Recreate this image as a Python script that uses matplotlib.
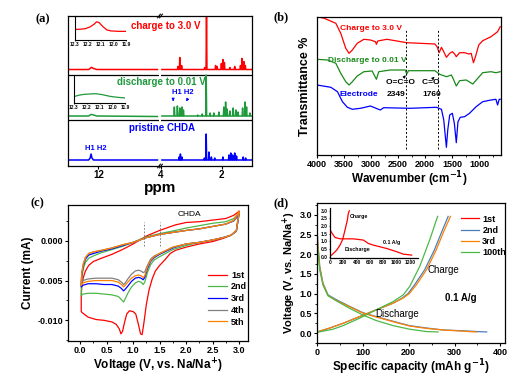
import numpy as np
import matplotlib
matplotlib.use("Agg")
import matplotlib.pyplot as plt
from matplotlib.ticker import MultipleLocator, FormatStrFormatter
from matplotlib.lines import Line2D

plt.rcParams['font.family'] = ['Liberation Sans', 'DejaVu Sans']
plt.rcParams['font.weight'] = 'bold'
plt.rcParams['axes.labelweight'] = 'bold'
plt.rcParams['axes.unicode_minus'] = False
plt.rcParams['mathtext.default'] = 'bf'
plt.rcParams['xtick.labelsize'] = 6.5
plt.rcParams['ytick.labelsize'] = 6.5
plt.rcParams['xtick.major.size'] = 2.2
plt.rcParams['ytick.major.size'] = 2.2
plt.rcParams['xtick.minor.size'] = 1.3
plt.rcParams['ytick.minor.size'] = 1.3
plt.rcParams['xtick.major.pad'] = 1.5
plt.rcParams['ytick.major.pad'] = 1.5
plt.rcParams['axes.linewidth'] = 0.9

# ---------------- (a) 1H NMR, peaks as (ppm, height) ----------------
nmr_red_peaks = [3.44, 3.38, 3.32, 2.56, 2.50, 2.20, 2.15, 2.01, 1.96, 1.91, 1.73, 1.57, 1.38, 1.33, 1.27, 1.22]
nmr_red_h = [3, 12, 4, 2, 53.5, 4, 3, 6, 10, 7, 2, 3, 4, 11, 8, 4]
nmr_green_peaks = [3.56, 3.46, 3.38, 3.31, 3.26, 2.79, 2.64, 2.51, 2.38, 2.26, 2.09, 1.93, 1.87, 1.82,
                   1.73, 1.62, 1.53, 1.46, 1.31, 1.23, 1.18, 1.07]
nmr_green_h = [9, 10, 8, 9, 6, 1, 2, 41, 3, 3, 4, 9, 14, 7, 5, 8, 6, 4, 8, 14, 9, 3]
nmr_blue_peaks = [3.40, 3.36, 3.31, 2.57, 2.51, 2.42, 2.34, 2.23, 1.96, 1.76, 1.70, 1.64, 1.57, 1.51, 1.29, 1.21]
nmr_blue_h = [3, 6, 3, 2, 26, 8, 3, 2, 3, 5, 7, 5, 7, 4, 3, 2]
base_red, base_green, base_blue = 96.5, 50, 6

# left (COOH) region
cooh_ppm = [13.0, 12.32, 12.27, 12.24, 12.21, 12.16, 12.05, 10.05]
cooh_red = [96.5, 96.5, 97.5, 98.5, 98.5, 97.5, 96.5, 96.5]
cooh_green = [50, 50, 51, 51.5, 51.5, 51, 50, 49.5]
cooh_blue = [6, 6, 8, 12, 8, 6, 6, 6]

# insets 12.3 - 11.9 ppm
ins_ppm = [12.30, 12.26, 12.22, 12.18, 12.15, 12.13, 12.11, 12.08, 12.05, 12.02, 11.99, 11.95, 11.90]
ins_red = [0.44, 0.45, 0.47, 0.55, 0.66, 0.76, 0.72, 0.55, 0.42, 0.38, 0.37, 0.36, 0.36]
ins_green = [0.23, 0.28, 0.31, 0.32, 0.33, 0.33, 0.32, 0.30, 0.27, 0.24, 0.22, 0.20, 0.18]

# ---------------- (b) FTIR ----------------
ir_red_wn = [4000, 3866, 3652, 3561, 3469, 3408, 3347, 3256, 3134, 3012, 2920, 2902, 2878, 2707, 2524,
             2341, 2097, 1822, 1780, 1743, 1700, 1658, 1609, 1548, 1499, 1456, 1426, 1365, 1273, 1194,
             1151, 1109, 1072, 1011, 938, 785, 663, 614]
ir_red_t = [138.3, 136.7, 131.7, 121.7, 106.7, 101.7, 105, 111.7, 115.7, 115, 113.3, 110.7, 114, 115.7, 114,
            112.3, 111.7, 111, 108.3, 102.3, 107.7, 103.3, 97.7, 101.7, 103.3, 101, 98.3, 102.3, 102.3, 101,
            101.7, 92.3, 98.3, 110, 114.3, 118.3, 123.3, 128.3]
ir_green_wn = [4000, 3805, 3652, 3561, 3469, 3408, 3347, 3256, 3134, 2981, 2902, 2859, 2646, 2371, 2341,
               2310, 1822, 1731, 1609, 1517, 1487, 1426, 1365, 1243, 1121, 1029, 938, 785, 694, 614]
ir_green_t = [95.7, 95, 91.7, 81.7, 73.3, 70, 73.3, 79, 83.3, 84, 75.7, 83.3, 85, 85, 81,
              84.3, 84.3, 80.7, 78.3, 80, 76.7, 69, 74.3, 75, 71, 76.7, 82.3, 83.3, 82.3, 83.3]
ir_blue_wn = [4000, 3744, 3622, 3530, 3439, 3347, 3195, 3012, 2890, 2829, 2768, 2280, 1792, 1700, 1658,
              1628, 1609, 1584, 1548, 1499, 1462, 1426, 1395, 1353, 1273, 1182, 1060, 938, 785, 694,
              663, 633, 614]
ir_blue_t = [70, 67.7, 63.3, 53.3, 47.7, 45.7, 46.7, 49, 46.3, 45, 47.3, 46.7, 47.7, 45.7, 35,
             18.3, 7.7, 25, 40, 41.7, 31.7, 12.3, 33.3, 37.7, 38.3, 41.7, 48.3, 53.3, 55, 55.7,
             50, 55.7, 55.7]
ir_marks = [2349, 1760]

# ---------------- (c) CV ----------------
cv_v_low1 = [3.00, 2.95, 2.85, 2.70, 2.50, 2.25, 2.00, 1.80, 1.70, 1.60, 1.50, 1.42, 1.36, 1.30, 1.25, 1.20,
             1.17, 1.14, 1.10, 1.05, 1.00, 0.93, 0.88, 0.84, 0.80, 0.77, 0.74, 0.68, 0.60, 0.45, 0.30,
             0.15, 0.05, 0.02]
cv_i_low1 = [0.0037, 0.0013, 0.0007, 0.0003, -0.0001, -0.0004, -0.0008, -0.0012, -0.0016, -0.0024,
             -0.0031, -0.0038, -0.0048, -0.0062, -0.0080, -0.0105, -0.0118, -0.0117, -0.0105, -0.0092,
             -0.0089, -0.0088, -0.0092, -0.0102, -0.0114, -0.0117, -0.0111, -0.0105, -0.0102, -0.0100,
             -0.0099, -0.0096, -0.0091, -0.0089]
cv_v_low = [3.00, 2.95, 2.85, 2.70, 2.50, 2.25, 2.00, 1.75, 1.50, 1.40, 1.33, 1.27, 1.22, 1.19, 1.15,
            1.10, 1.04, 0.97, 0.90, 0.85, 0.82, 0.78, 0.72, 0.60, 0.45, 0.30, 0.15, 0.05, 0.02]
cv_i_low2 = [0.0035, 0.0013, 0.0007, 0.0004, 0.0001, -0.0002, -0.0006, -0.0011, -0.0020, -0.0024,
             -0.0030, -0.0040, -0.0052, -0.0055, -0.0052, -0.0051, -0.0053, -0.0058, -0.0066, -0.0073,
             -0.0077, -0.0074, -0.0070, -0.0068, -0.0067, -0.0066, -0.0066, -0.0067, -0.0069]
cv_i_low3 = [0.0033, 0.0012, 0.0007, 0.0004, 0.0001, -0.0002, -0.0004, -0.0009, -0.0017, -0.0021,
             -0.0026, -0.0035, -0.0046, -0.0049, -0.0047, -0.0046, -0.0047, -0.0051, -0.0057, -0.0061,
             -0.0063, -0.0060, -0.0057, -0.0055, -0.0055, -0.0054, -0.0054, -0.0056, -0.0058]
cv_i_low4 = [0.0033, 0.0012, 0.0007, 0.0004, 0.0001, -0.0002, -0.0004, -0.0008, -0.0016, -0.0019,
             -0.0023, -0.0031, -0.0039, -0.0040, -0.0038, -0.0037, -0.0038, -0.0042, -0.0048, -0.0053,
             -0.0055, -0.0052, -0.0049, -0.0047, -0.0047, -0.0047, -0.0048, -0.0050, -0.0053]
cv_i_low5 = [0.0035, 0.0013, 0.0007, 0.0004, 0.0001, -0.0002, -0.0004, -0.0008, -0.0016, -0.0020,
             -0.0025, -0.0033, -0.0044, -0.0046, -0.0044, -0.0043, -0.0044, -0.0047, -0.0052, -0.0056,
             -0.0058, -0.0055, -0.0052, -0.0050, -0.0050, -0.0050, -0.0051, -0.0053, -0.0056]
cv_v_up = [0.02, 0.03, 0.06, 0.10, 0.16, 0.25, 0.40, 0.60, 0.80, 1.00, 1.25, 1.50, 1.80, 2.00, 2.25,
           2.50, 2.75, 2.90, 3.00]
cv_i_up1 = [-0.0070, -0.0058, -0.0046, -0.0038, -0.0031, -0.0026, -0.0022, -0.0017, -0.0011, -0.0004,
            0.0006, 0.0013, 0.0020, 0.0023, 0.0024, 0.0026, 0.0028, 0.0032, 0.0037]
cv_i_up2 = [-0.0058, -0.0047, -0.0035, -0.0027, -0.0022, -0.0019, -0.0015, -0.0011, -0.0007, -0.0002,
            0.0005, 0.0009, 0.0013, 0.0016, 0.0019, 0.0022, 0.0024, 0.0028, 0.0035]
cv_i_up3 = [-0.0055, -0.0043, -0.0031, -0.0023, -0.0018, -0.0016, -0.0013, -0.0010, -0.0006, -0.0002,
            0.0004, 0.0008, 0.0011, 0.0013, 0.0015, 0.0018, 0.0021, 0.0025, 0.0033]
cv_i_up4 = [-0.0052, -0.0040, -0.0029, -0.0021, -0.0016, -0.0014, -0.0012, -0.0009, -0.0005, -0.0002,
            0.0004, 0.0008, 0.0011, 0.0013, 0.0015, 0.0018, 0.0021, 0.0025, 0.0034]
cv_i_up5 = [-0.0054, -0.0041, -0.0029, -0.0021, -0.0016, -0.0014, -0.0012, -0.0009, -0.0005, -0.0002,
            0.0004, 0.0008, 0.0011, 0.0013, 0.0015, 0.0018, 0.0021, 0.0026, 0.0037]
cv_labels = ["1st", "2nd", "3rd", "4th", "5th"]
cv_colors = ["#ff0000", "#4cb848", "#0000ff", "#808080", "#ff8000"]
cv_marks = [1.2, 1.5]

# ---------------- (d) charge/discharge ----------------
dis2_cap = [0, 2, 6, 13, 24, 42, 71, 100, 129, 166, 202, 239, 275, 318, 350, 370]
dis2_v = [2.70, 2.28, 1.69, 1.27, 0.97, 0.85, 0.68, 0.52, 0.42, 0.30, 0.19, 0.13, 0.08, 0.06, 0.04, 0.03]
dis3_cap = [0, 2, 6, 13, 24, 42, 71, 100, 129, 166, 202, 239, 275, 318, 348]
dis3_v = [2.65, 2.20, 1.65, 1.25, 0.95, 0.83, 0.67, 0.51, 0.41, 0.29, 0.18, 0.12, 0.08, 0.05, 0.03]
dis100_cap = [0, 2, 6, 13, 24, 42, 71, 100, 129, 166, 202, 239, 264]
dis100_v = [2.45, 2.10, 1.60, 1.22, 0.95, 0.82, 0.63, 0.46, 0.32, 0.19, 0.10, 0.04, 0.03]
chg2_cap = [0, 28, 57, 93, 129, 166, 186, 199, 213, 235, 256, 271, 286]
chg2_v = [0.03, 0.13, 0.25, 0.42, 0.59, 0.76, 0.89, 1.01, 1.23, 1.61, 2.11, 2.54, 2.96]
chg3_cap = [0, 28, 57, 93, 129, 166, 188, 202, 217, 239, 260, 275, 291]
chg3_v = [0.03, 0.13, 0.25, 0.42, 0.59, 0.76, 0.89, 1.01, 1.23, 1.61, 2.11, 2.54, 2.96]
chg100_cap = [0, 35, 57, 93, 129, 166, 188, 202, 224, 246, 263]
chg100_v = [0.02, 0.10, 0.19, 0.38, 0.59, 0.80, 0.97, 1.18, 1.69, 2.37, 2.96]
chg1_cap = [0, 25, 100, 150, 190, 225, 260, 275, 290]
chg1_v = [0.05, 0.11, 0.43, 0.76, 1.13, 1.74, 2.39, 2.83, 3.0]
dis1_cap = [0, 5, 25, 75, 150, 350, 500, 575, 650, 850, 1000, 1100, 1225]
dis1_v = [2.5, 1.74, 1.57, 1.26, 1.17, 1.17, 1.09, 0.87, 0.76, 0.54, 0.33, 0.17, 0.11]
gcd_labels = ["1st", "2nd", "3rd", "100th"]
gcd_colors = ["#ff0000", "#4a7ebb", "#ff8000", "#4cb848"]

W, H = 519, 380


def box(x0, y0, x1, y1):
    return [x0 / W, 1 - y1 / H, (x1 - x0) / W, (y1 - y0) / H]


def sticks(peaks, heights, base, hi=3.97, lo=1.0, w=0.015):
    xs, ys = [hi], [base]
    for p, h in sorted(zip(peaks, heights), reverse=True):
        xs += [p + w, p, p - w]
        ys += [base, base + h, base]
    xs.append(lo)
    ys.append(base)
    return xs, ys


fig = plt.figure(figsize=(W / 100, H / 100), dpi=100)

# ===== (a) =====
axL = fig.add_axes(box(68, 16, 159, 166))
axR = fig.add_axes(box(161, 16, 252, 166))
axL.set_xlim(13, 10)
axR.set_xlim(4, 1)
for ax in (axL, axR):
    ax.set_ylim(0, 150)
    ax.set_yticks([])
    ax.axhline(46, color='k', lw=0.9)
    ax.axhline(91, color='k', lw=0.9)
axL.spines['right'].set_visible(False)
axR.spines['left'].set_visible(False)
axL.set_xticks([12])
axR.set_xticks([4, 2])
axL.tick_params(labelsize=7, pad=0.8, length=2)
axR.tick_params(labelsize=7, pad=0.8, length=2)

axL.plot(cooh_ppm, cooh_red, color='#ff0000', lw=1.1)
axL.plot(cooh_ppm, cooh_green, color='#1e9a3c', lw=1.1)
axL.plot(cooh_ppm, cooh_blue, color='#0000ff', lw=1.1)
for pk, hh, bs, col in [(nmr_red_peaks, nmr_red_h, base_red, '#ff0000'),
                        (nmr_green_peaks, nmr_green_h, base_green, '#1e9a3c'),
                        (nmr_blue_peaks, nmr_blue_h, base_blue, '#0000ff')]:
    xs, ys = sticks(pk, hh, bs)
    axR.plot(xs, ys, color=col, lw=1.1, clip_on=True)

# break marks
for yy in (0, 1):
    axL.plot([0.985, 1.015], [yy - 0.012, yy + 0.012], transform=axL.transAxes,
             color='k', lw=0.8, clip_on=False)
    axR.plot([-0.015, 0.015], [yy - 0.012, yy + 0.012], transform=axR.transAxes,
             color='k', lw=0.8, clip_on=False)

axR.text(3.83, 140, "charge to 3.0 V", color='#ff0000', fontsize=7, ha='center', va='center')
axR.text(4.0, 84, "discharge to 0.01 V", color='#1e9a3c', fontsize=7, ha='center', va='center')
axR.text(3.97, 38, "pristine CHDA", color='#0000ff', fontsize=7, ha='center', va='center')
axL.text(12.07, 18, "H1 H2", color='#0000ff', fontsize=5.5, ha='center', va='center')
axR.text(3.27, 74, "H1 H2", color='#0000ff', fontsize=5.5, ha='center', va='center')
axR.annotate("", xy=(3.60, 62), xytext=(3.60, 69),
             arrowprops=dict(arrowstyle='-|>', color='#0000ff', lw=0.6, mutation_scale=4))
axR.annotate("", xy=(3.21, 62), xytext=(3.09, 69),
             arrowprops=dict(arrowstyle='-|>', color='#0000ff', lw=0.6, mutation_scale=4))
fig.text(160 / W, 1 - 188 / H, "ppm", fontsize=11, ha='center', va='center')

for rect, yv, col in [((75, 16, 126, 40), ins_red, '#ff0000'), ((74, 75, 125, 103), ins_green, '#1e9a3c')]:
    ins = fig.add_axes(box(*rect))
    ins.patch.set_alpha(0)
    ins.plot(ins_ppm, yv, color=col, lw=0.9)
    ins.set_xlim(12.3, 11.9)
    ins.set_ylim(0, 1)
    ins.set_yticks([])
    ins.set_xticks([12.3, 12.2, 12.1, 12.0, 11.9])
    ins.tick_params(labelsize=3.5, length=1, pad=0.5, width=0.5)
    ins.spines['top'].set_visible(False)
    ins.spines['right'].set_visible(False)
    ins.spines['left'].set_linewidth(0.8)
    ins.spines['bottom'].set_linewidth(0.8)

# ===== (b) =====
axb = fig.add_axes(box(317, 17, 501, 155))
axb.plot(ir_red_wn, ir_red_t, color='#ff0000', lw=0.9)
axb.plot(ir_green_wn, ir_green_t, color='#1a8a1a', lw=0.9)
axb.plot(ir_blue_wn, ir_blue_t, color='#0000ff', lw=0.9)
axb.set_xlim(4000, 600)
axb.set_ylim(0, 138)
axb.set_yticks([])
axb.xaxis.set_major_locator(MultipleLocator(500))
axb.xaxis.set_minor_locator(MultipleLocator(250))
axb.vlines(ir_marks, 6, 125, colors='k', linestyles=(0, (2, 2)), lw=0.7)
axb.set_xlabel("Wavenumber (cm$^{-1}$)", fontsize=8.5, labelpad=0)
axb.set_ylabel("Transmittance %", fontsize=9, labelpad=4)
axb.text(3580, 127, "Charge to 3.0 V", color='#ff0000', fontsize=6, va='center')
axb.text(3800, 95, "Discharge to 0.01 V", color='#1a8a1a', fontsize=6, va='center')
axb.text(3580, 60, "Electrode", color='#0000ff', fontsize=6, va='center')
axb.text(2720, 72, "O=C=O   C=O", color='k', fontsize=6, va='center')
axb.text(2720, 60, "2349", color='k', fontsize=6, va='center')
axb.text(2060, 60, "1760", color='k', fontsize=6, va='center')
axb.annotate("", xy=(2330, 82), xytext=(2430, 75),
             arrowprops=dict(arrowstyle='-|>', color='k', lw=0.5, mutation_scale=4))
axb.annotate("", xy=(1790, 80), xytext=(1890, 75),
             arrowprops=dict(arrowstyle='-|>', color='k', lw=0.5, mutation_scale=4))

# ===== (c) =====
axc = fig.add_axes(box(68, 205, 248, 341))
lows = [(cv_v_low1, cv_i_low1), (cv_v_low, cv_i_low2), (cv_v_low, cv_i_low3),
        (cv_v_low, cv_i_low4), (cv_v_low, cv_i_low5)]
ups = [cv_i_up1, cv_i_up2, cv_i_up3, cv_i_up4, cv_i_up5]
handles = []
for (vl, il), iu, lab, col in zip(lows, ups, cv_labels, cv_colors):
    v = list(vl) + cv_v_up
    i = list(il) + iu
    ln, = axc.plot(v, i, color=col, lw=0.9, label=lab)
    handles.append(ln)
axc.set_xlim(-0.23, 3.17)
axc.set_ylim(-0.0126, 0.0045)
axc.xaxis.set_major_locator(MultipleLocator(0.5))
axc.xaxis.set_minor_locator(MultipleLocator(0.25))
axc.yaxis.set_major_locator(MultipleLocator(0.005))
axc.yaxis.set_minor_locator(MultipleLocator(0.0025))
axc.xaxis.set_major_formatter(FormatStrFormatter('%.1f'))
axc.yaxis.set_major_formatter(FormatStrFormatter('%.3f'))
axc.vlines(cv_marks, -0.0006, 0.0023, colors='#707070', linestyles=(0, (2, 2)), lw=0.6)
axc.text(2.07, 0.0033, "CHDA", fontsize=6, ha='center', va='center', fontweight='normal')
axc.set_xlabel("Voltage (V, vs. Na/Na$^{+}$)", fontsize=8.5, labelpad=1)
axc.set_ylabel("Current (mA)", fontsize=8.5, labelpad=2)
axc.legend(handles=handles, loc='upper left', bbox_to_anchor=(0.75, 0.55), frameon=False,
           fontsize=6.5, handlelength=2.2, handletextpad=0.4, labelspacing=0.3, borderpad=0)

# ===== (d) =====
axd = fig.add_axes(box(317, 203, 505, 343))
axd.plot(dis2_cap, dis2_v, color=gcd_colors[1], lw=0.9)
axd.plot(chg2_cap, chg2_v, color=gcd_colors[1], lw=0.9)
axd.plot(dis3_cap, dis3_v, color=gcd_colors[2], lw=0.9)
axd.plot(chg3_cap, chg3_v, color=gcd_colors[2], lw=0.9)
axd.plot(dis100_cap, dis100_v, color=gcd_colors[3], lw=0.9)
axd.plot(chg100_cap, chg100_v, color=gcd_colors[3], lw=0.9)
axd.set_xlim(0, 410)
axd.set_ylim(-0.25, 3.3)
axd.xaxis.set_major_locator(MultipleLocator(100))
axd.xaxis.set_minor_locator(MultipleLocator(50))
axd.yaxis.set_major_locator(MultipleLocator(0.5))
axd.yaxis.set_minor_locator(MultipleLocator(0.25))
axd.yaxis.set_major_formatter(FormatStrFormatter('%.1f'))
axd.set_xlabel("Specific capacity (mAh g$^{-1}$)", fontsize=8.5, labelpad=0)
axd.set_ylabel("Voltage (V, vs. Na/Na$^{+}$)", fontsize=8, labelpad=1)
axd.text(240, 1.61, "Charge", fontsize=7, va='center', fontweight='normal')
axd.text(280, 0.90, "0.1 A/g", fontsize=7, va='center')
axd.text(126, 0.49, "Discharge", fontsize=7, va='center', fontweight='normal')
lh = [Line2D([], [], color=c, lw=0.9) for c in gcd_colors]
axd.legend(lh, gcd_labels, loc='upper left', bbox_to_anchor=(0.74, 0.95), frameon=False,
           fontsize=6.5, handlelength=2.0, handletextpad=0.4, labelspacing=0.25, borderpad=0)

insd = fig.add_axes(box(330, 208.5, 418, 258.3))
insd.patch.set_alpha(0)
insd.plot(chg1_cap, chg1_v, color='#ff0000', lw=0.9)
insd.plot(dis1_cap, dis1_v, color='#ff0000', lw=0.9)
insd.set_xlim(0, 1320)
insd.set_ylim(-0.1, 3.15)
insd.set_xticks([0, 200, 400, 600, 800, 1000, 1200])
insd.set_yticks([0.0, 0.5, 1.0, 1.5, 2.0, 2.5, 3.0])
insd.yaxis.set_major_formatter(FormatStrFormatter('%.1f'))
insd.tick_params(labelsize=3.5, length=1, pad=0.5, width=0.5)
insd.spines['top'].set_visible(False)
insd.spines['right'].set_visible(False)
insd.text(290, 2.6, "Charge", fontsize=3.8, va='center')
insd.text(225, 0.45, "Discharge", fontsize=3.8, va='center')
insd.text(800, 0.9, "0.1 A/g", fontsize=3.8, va='center')

# panel letters
for lab, x, y in [("(a)", 43, 19), ("(b)", 281, 17), ("(c)", 37, 203), ("(d)", 281, 203)]:
    fig.text(x / W, 1 - y / H, lab, fontsize=9, fontweight='bold', family='Liberation Serif',
             ha='center', va='center')

fig.savefig("out.png", dpi=100)
